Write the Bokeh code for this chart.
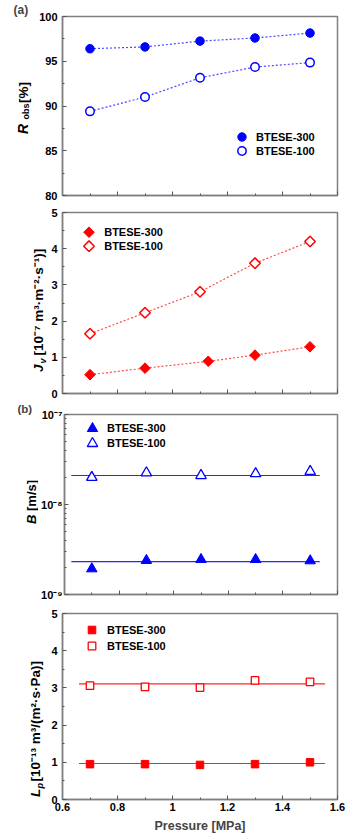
import numpy as np
from bokeh.plotting import figure
from bokeh.layouts import column, row
from bokeh.models import (FixedTicker, Range1d, Legend, LegendItem, Title,
                          CustomJSTickFormatter)
from bokeh.core.properties import value
from bokeh.embed import file_html
from bokeh.resources import INLINE

# ---------------- data ----------------
pressure = [0.7, 0.9, 1.1, 1.3, 1.5]
pressure_jv300 = [0.7, 0.9, 1.13, 1.3, 1.5]

r_obs_300 = [96.4, 96.6, 97.25, 97.6, 98.15]
r_obs_100 = [89.4, 91.0, 93.15, 94.35, 94.85]

jv_300 = [0.52, 0.70, 0.89, 1.06, 1.29]
jv_100 = [1.65, 2.23, 2.81, 3.60, 4.20]

b_300 = [1.93e-9, 2.39e-9, 2.45e-9, 2.45e-9, 2.37e-9]
b_100 = [2.0e-8, 2.25e-8, 2.1e-8, 2.2e-8, 2.33e-8]
b_fit_x = [0.625, 1.535]
b_fit_300 = [2.32e-9, 2.32e-9]
b_fit_100 = [2.1e-8, 2.1e-8]

lp_300 = [0.95, 0.95, 0.93, 0.95, 1.00]
lp_100 = [3.06, 3.03, 3.01, 3.20, 3.16]
lp_fit_x = [0.66, 1.555]
lp_fit_300 = [0.968, 0.968]
lp_fit_100 = [3.11, 3.11]

series_names = ["BTESE-300", "BTESE-100"]

x_ticks = [0.6, 0.8, 1.0, 1.2, 1.4, 1.6]
x_minor = [0.7, 0.9, 1.1, 1.3, 1.5]
r_ticks = [80, 85, 90, 95, 100]
r_minor = [82.5, 87.5, 92.5, 97.5]
lin_ticks = [0, 1, 2, 3, 4, 5]
lin_minor = [0.5, 1.5, 2.5, 3.5, 4.5]
log_ticks = [1e-9, 1e-8, 1e-7]
log_minor = [k * 1e-9 for k in range(2, 10)] + [k * 1e-8 for k in range(2, 10)]

BLUE = "#0000ff"
RED = "#ff0000"
FONT = "Liberation Sans"
FRAME = "#808080"
FL = 60  # frame left on page
W = 346


def make_fig(h, top, bottom, wl, y_range, y_type="linear", show_x_labels=False):
    p = figure(width=W - wl, height=h, x_range=Range1d(0.6, 1.6), y_range=y_range,
               y_axis_type=y_type, output_backend="svg", toolbar_location=None,
               title=None, min_border_left=FL - wl, min_border_right=9,
               min_border_top=top, min_border_bottom=bottom)
    p.grid.visible = False
    p.outline_line_color = FRAME
    p.outline_line_width = 1.5
    p.background_fill_color = "white"
    p.border_fill_color = "white"
    for ax in p.axis:
        ax.axis_line_color = FRAME
        ax.axis_line_width = 1.5
        ax.major_tick_in = 4
        ax.major_tick_out = 0
        ax.minor_tick_in = 2
        ax.minor_tick_out = 0
        ax.major_tick_line_color = "#555555"
        ax.minor_tick_line_color = "#555555"
        ax.major_label_text_font = FONT
        ax.major_label_text_font_style = "bold"
        ax.major_label_text_font_size = "11px"
        ax.major_label_text_color = "black"
    p.xaxis.ticker = FixedTicker(ticks=x_ticks, minor_ticks=x_minor)
    p.yaxis.major_label_standoff = 5
    if show_x_labels:
        p.xaxis.major_label_standoff = 3
    else:
        p.xaxis.major_label_text_font_size = "1px"
        p.xaxis.major_label_text_color = None
        p.xaxis.major_label_standoff = 0
    return p


def label_fig(h, wl, top, bottom, tag=None):
    # the frame of this strip is aligned with the main plot's frame: [top, h-bottom]
    f = figure(width=wl, height=h, x_range=Range1d(0, wl), y_range=Range1d(bottom, h - top),
               output_backend="svg", toolbar_location=None, title=None, min_border=0,
               x_axis_location=None, y_axis_location=None)
    f.outline_line_color = None
    f.grid.visible = False
    f.border_fill_color = "white"
    f.background_fill_color = "white"
    if tag is not None:
        text, off, size = tag
        f.add_layout(Title(text=text, align="left", offset=off, standoff=0,
                           text_font=FONT, text_font_style="bold", text_font_size=size,
                           vertical_align="bottom"), "above")
    return f


def piece(f, text, px, py, page_top, h, size, style="bold", angle=np.pi / 2):
    # px, py: page position of the text's start, centred across its height
    f.text(x=[px], y=[h - (py - page_top)], text=[text], angle=angle,
           text_align="left", text_baseline="middle", text_font=value(FONT),
           text_font_style=style, text_font_size=size, text_color="black")


def add_legend(p, renderer, label, cx, cy, text_x, fb, gw):
    leg = Legend(items=[LegendItem(label=label, renderers=[renderer])],
                 location=(int(round(cx - gw / 2 - FL)), int(round(fb - (cy + gw / 2)))),
                 padding=0, margin=0, spacing=0, glyph_width=gw, glyph_height=gw,
                 label_height=gw, label_standoff=int(round(text_x - (cx + gw / 2))),
                 border_line_color=None, background_fill_alpha=0,
                 label_text_font=FONT, label_text_font_style="bold",
                 label_text_font_size="11px", label_text_color="black")
    p.add_layout(leg)


# ---------------- panel (a) top: R_obs ----------------
H1, T1, B1, WL1, TOP1 = 204, 16, 9, 36, 0
p1 = make_fig(H1, T1, B1, WL1, Range1d(80, 100))
p1.yaxis.ticker = FixedTicker(ticks=r_ticks, minor_ticks=r_minor)
fb1 = TOP1 + H1 - B1
p1.line(pressure, r_obs_300, line_color="#4a4aff", line_width=1.2, line_dash="2 2")
p1.line(pressure, r_obs_100, line_color="#4a4aff", line_width=1.2, line_dash="2 2")
r1a = p1.scatter(pressure, r_obs_300, marker="circle", size=8.5, fill_color=BLUE,
                 line_color=BLUE, line_width=1)
r1b = p1.scatter(pressure, r_obs_100, marker="circle", size=8.5, fill_color="white",
                 line_color=BLUE, line_width=1.5)
add_legend(p1, r1a, series_names[0], 239.3, 136, 254, fb1, 21)
add_legend(p1, r1b, series_names[1], 239.3, 150, 254, fb1, 21)
l1 = label_fig(H1, WL1, T1, B1, tag=("(a)", 13, "12px"))
piece(l1, "R", 22.3, 133.5, TOP1, H1, "14px", "bold italic")
piece(l1, "obs", 25.8, 119, TOP1, H1, "9px", "bold")
piece(l1, "[%]", 22.5, 102.5, TOP1, H1, "13.5px", "bold")

# ---------------- panel (a) bottom: Jv ----------------
H2, T2, B2, WL2, TOP2 = 196, 8, 7, 48, 204
p2 = make_fig(H2, T2, B2, WL2, Range1d(0, 5))
p2.yaxis.ticker = FixedTicker(ticks=lin_ticks, minor_ticks=lin_minor)
fb2 = TOP2 + H2 - B2
fh2 = H2 - T2 - B2
p2.line(pressure_jv300, jv_300, line_color="#ff4a4a", line_width=1.2, line_dash="2 2")
p2.line(pressure, jv_100, line_color="#ff4a4a", line_width=1.2, line_dash="2 2")
p2.scatter(pressure_jv300, jv_300, marker="square", angle=np.pi / 4, size=7.5,
           fill_color=RED, line_color=RED, line_width=1)
p2.scatter(pressure, jv_100, marker="square", angle=np.pi / 4, size=7.5,
           fill_color="white", line_color=RED, line_width=1.5)
# legend (drawn by hand so that the diamond keeps its rotation)
leg_px_x = [86.7, 86.7]
leg_px_y = [231.7, 245.7]
leg_x = [0.6 + (v - FL) / 277.0 for v in leg_px_x]
leg_y = [(fb2 - v) / fh2 * 5.0 for v in leg_px_y]
p2.scatter(leg_x[:1], leg_y[:1], marker="square", angle=np.pi / 4, size=7.5,
           fill_color=RED, line_color=RED, line_width=1)
p2.scatter(leg_x[1:], leg_y[1:], marker="square", angle=np.pi / 4, size=7.5,
           fill_color="white", line_color=RED, line_width=1.5)
p2.text(x=[0.6 + (102 - FL) / 277.0] * 2, y=leg_y, text=series_names,
        text_align="left", text_baseline="middle", text_font=value(FONT),
        text_font_style="bold", text_font_size="11px", text_color="black")
l2 = label_fig(H2, WL2, T2, B2)
piece(l2, "J", 38.3, 371.5, TOP2, H2, "13.5px", "bold italic")
piece(l2, "v", 42.5, 363, TOP2, H2, "9px", "bold italic")
piece(l2, "[10\u207b\u2077 m\u00b3\u00b7m\u207b\u00b2\u00b7s\u207b\u00b9)]", 38.3, 355, TOP2, H2,
      "13.5px")

# ---------------- panel (b) top: B ----------------
H3, T3, B3, WL3, TOP3 = 204, 13, 10, 38, 400
p3 = make_fig(H3, T3, B3, WL3, Range1d(1e-9, 1e-7), y_type="log")
p3.yaxis.ticker = FixedTicker(ticks=log_ticks, minor_ticks=log_minor)
p3.yaxis.major_label_standoff = 2
p3.yaxis.formatter = CustomJSTickFormatter(code="""
const e = Math.round(Math.log10(tick));
const sup = {'-':'\u207b','0':'\u2070','1':'\u00b9','2':'\u00b2','3':'\u00b3','4':'\u2074','5':'\u2075','6':'\u2076','7':'\u2077','8':'\u2078','9':'\u2079'};
return '10' + String(e).split('').map(c => sup[c]).join('');
""")
fb3 = TOP3 + H3 - B3
p3.line(b_fit_x, b_fit_300, line_color=BLUE, line_width=1.2, line_alpha=0.85)
p3.line(b_fit_x, b_fit_100, line_color=BLUE, line_width=1.2, line_alpha=0.85)
r3a = p3.scatter(pressure, b_300, marker="triangle", size=10.5, fill_color=BLUE,
                 line_color=BLUE, line_width=1)
r3b = p3.scatter(pressure, b_100, marker="triangle", size=10.5, fill_color="white",
                 line_color=BLUE, line_width=1.3)
add_legend(p3, r3a, series_names[0], 88.3, 428.3, 103, fb3, 26)
add_legend(p3, r3b, series_names[1], 88.3, 442.7, 103, fb3, 26)
l3 = label_fig(H3, WL3, T3, B3, tag=("(b)", 17, "11.5px"))
piece(l3, "B", 31, 523, TOP3, H3, "13px", "bold italic")
piece(l3, "[m/s]", 31, 510, TOP3, H3, "13px")

# ---------------- panel (b) bottom: Lp ----------------
H4, T4, B4, WL4, TOP4 = 231, 9, 35, 48, 604
p4 = make_fig(H4, T4, B4, WL4, Range1d(0, 5), show_x_labels=True)
p4.yaxis.ticker = FixedTicker(ticks=lin_ticks, minor_ticks=lin_minor)
p4.xaxis.axis_label = "Pressure [MPa]"
p4.xaxis.axis_label_text_font = FONT
p4.xaxis.axis_label_text_font_style = "bold"
p4.xaxis.axis_label_text_font_size = "12.5px"
p4.xaxis.axis_label_standoff = 5
fb4 = TOP4 + H4 - B4
p4.line(lp_fit_x, lp_fit_300, line_color=RED, line_width=1.2, line_alpha=0.85)
p4.line(lp_fit_x, lp_fit_100, line_color=RED, line_width=1.2, line_alpha=0.85)
r4a = p4.scatter(pressure, lp_300, marker="square", size=7.5, fill_color=RED,
                 line_color=RED, line_width=1)
r4b = p4.scatter(pressure, lp_100, marker="square", size=7.5, fill_color="white",
                 line_color=RED, line_width=1.3)
add_legend(p4, r4a, series_names[0], 89.3, 631, 105, fb4, 19)
add_legend(p4, r4b, series_names[1], 89.3, 646, 105, fb4, 19)
l4 = label_fig(H4, WL4, T4, B4)
piece(l4, "L", 35.3, 797.5, TOP4, H4, "13.5px", "bold italic")
piece(l4, "p", 39.5, 789, TOP4, H4, "9px", "bold italic")
piece(l4, "[10\u207b\u00b9\u00b3 m\u00b3/(m\u00b2\u00b7s\u00b7Pa)]", 35.3, 782, TOP4, H4, "13.5px")

layout = column(row(l1, p1, spacing=0), row(l2, p2, spacing=0),
                row(l3, p3, spacing=0), row(l4, p4, spacing=0), spacing=0)
open("out.html", "w").write(file_html(layout, INLINE))
